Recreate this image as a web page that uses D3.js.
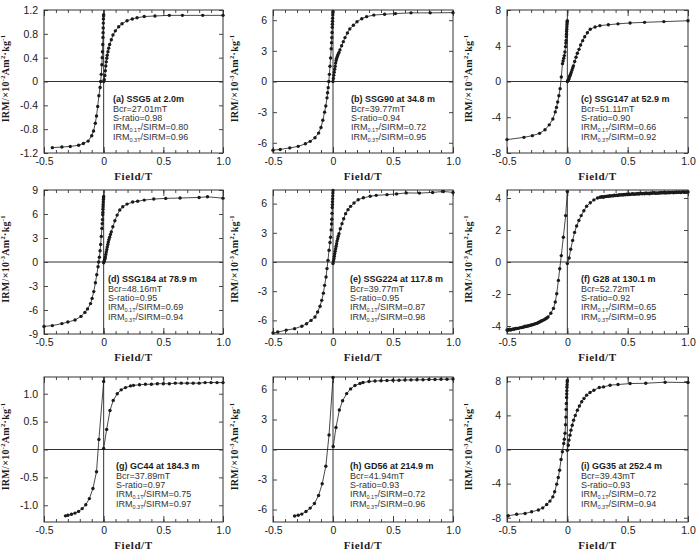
<!DOCTYPE html>
<html>
<head>
<meta charset="utf-8">
<script src="https://cdn.jsdelivr.net/npm/d3@7"></script>
<style>
  html, body { margin: 0; padding: 0; background: #fff; }
  svg { display: block; }
</style>
</head>
<body>
<svg id="chart" width="700" height="554"></svg>
<script>
// ---------------- DATA ----------------
const titles = ['(a) SSG5 at 2.0m','(b) SSG90 at 34.8 m','(c) SSG147 at 52.9 m','(d) SSG184 at 78.9 m','(e) SSG224 at 117.8 m','(f) G28 at 130.1 m','(g) GC44 at 184.3 m','(h) GD56 at 214.9 m','(i) GG35 at 252.4 m'];
const bcrValues = ['27.01','39.77','51.11','48.16','39.77','52.72','37.89','41.94','39.43'];
const sRatios = ['0.98','0.94','0.90','0.95','0.95','0.92','0.97','0.93','0.93'];
const irm01Ratios = ['0.80','0.72','0.66','0.69','0.87','0.65','0.75','0.72','0.72'];
const irm03Ratios = ['0.96','0.95','0.92','0.94','0.98','0.95','0.97','0.96','0.94'];
const unitExponents = ['-2','-3','-3','-3','-3','-3','-2','-3','-3'];
const yDomains = [[-1.2,1.2],[-7,7],[-8,8],[-9,9],[-7.4,7.4],[-4.5,4.5],[-1.3,1.3],[-7.25,7.25],[-8.5,8.5]];
const yTickValues = [[-1.2,-0.8,-0.4,0,0.4,0.8,1.2],[-6,-3,0,3,6],[-8,-4,0,4,8],[-9,-6,-3,0,3,6,9],[-6,-3,0,3,6],[-4,-2,0,2,4],[-1,-0.5,0,0.5,1],[-6,-3,0,3,6],[-8,-4,0,4,8]];
const yTickDecimals = [1,0,0,0,0,0,1,0,0];
const xDomain = [-0.5, 1.0];
const xTickValues = [-0.5, 0, 0.5, 1.0];
const xTickLabels = ['-0.5','0','0.5','1.0'];
const xMinorTicks = [-0.5,-0.4,-0.3,-0.2,-0.1,0,0.1,0.2,0.3,0.4,0.5,0.6,0.7,0.8,0.9,1.0];

// (a)
const backField_a = [0,-0.001,-0.002,-0.003,-0.004,-0.005,-0.006,-0.008,-0.01,-0.012,-0.015,-0.02,-0.025,-0.03,-0.04,-0.05,-0.06,-0.07,-0.085,-0.1,-0.13,-0.17,-0.21,-0.28,-0.35,-0.43];
const backIRM_a   = [1.12,1.1,1.05,0.98,0.9,0.82,0.74,0.62,0.5,0.4,0.28,0.12,0.0,-0.1,-0.24,-0.42,-0.58,-0.7,-0.83,-0.91,-1.0,-1.04,-1.07,-1.09,-1.1,-1.11];
const acqField_a = [0,0.005,0.01,0.014,0.018,0.022,0.026,0.03,0.036,0.042,0.05,0.064,0.078,0.098,0.126,0.154,0.196,0.24,0.28,0.34,0.43,0.55,0.66,0.83,1.0];
const acqIRM_a   = [0,0.03,0.1,0.18,0.26,0.33,0.39,0.44,0.5,0.56,0.62,0.7,0.78,0.85,0.92,0.97,1.02,1.05,1.07,1.09,1.1,1.11,1.11,1.11,1.11];
// (b)
const backField_b = [0,-0.001,-0.002,-0.003,-0.004,-0.005,-0.006,-0.008,-0.01,-0.012,-0.015,-0.02,-0.025,-0.03,-0.035,-0.04,-0.045,-0.05,-0.06,-0.07,-0.085,-0.1,-0.12,-0.15,-0.19,-0.23,-0.29,-0.36,-0.44,-0.5];
const backIRM_b   = [6.85,6.7,6.5,6.2,5.9,5.6,5.3,4.8,4.3,3.8,3.2,2.3,1.5,0.7,0.0,-0.6,-1.1,-1.6,-2.4,-3.0,-3.8,-4.5,-5.05,-5.5,-5.86,-6.1,-6.35,-6.5,-6.65,-6.72];
const acqField_b = [0,0.003,0.006,0.01,0.014,0.018,0.022,0.026,0.03,0.036,0.042,0.05,0.058,0.072,0.086,0.1,0.12,0.14,0.17,0.2,0.24,0.28,0.34,0.43,0.52,0.65,0.81,1.0];
const acqIRM_b   = [0,0.3,0.6,0.9,1.2,1.5,1.8,2.05,2.25,2.45,2.65,2.85,3.1,3.5,3.9,4.3,4.75,5.15,5.5,5.85,6.15,6.35,6.5,6.58,6.65,6.72,6.72,6.74];
// (c)
const backField_c = [0,-0.001,-0.002,-0.003,-0.004,-0.005,-0.006,-0.007,-0.008,-0.01,-0.012,-0.015,-0.02,-0.025,-0.03,-0.035,-0.04,-0.05,-0.06,-0.07,-0.08,-0.09,-0.1,-0.12,-0.15,-0.185,-0.23,-0.29,-0.36,-0.5];
const backIRM_c   = [6.8,6.7,6.55,6.35,6.1,5.85,5.6,5.3,5.0,4.6,4.3,3.9,3.3,2.9,2.6,2.3,2.0,0.5,-0.8,-1.6,-2.3,-2.9,-3.4,-4.2,-4.85,-5.4,-5.8,-6.06,-6.25,-6.5];
const acqField_c = [0,0.003,0.006,0.011,0.015,0.019,0.023,0.028,0.033,0.039,0.045,0.05,0.061,0.072,0.083,0.097,0.11,0.127,0.144,0.166,0.19,0.23,0.27,0.34,0.42,0.52,0.64,0.8,1.0];
const acqIRM_c   = [0,0.05,0.12,0.26,0.4,0.56,0.7,0.86,1.05,1.3,1.55,1.75,2.23,2.71,3.16,3.6,4.09,4.57,5.0,5.46,5.85,6.1,6.25,6.35,6.45,6.55,6.62,6.7,6.8];
// (d)
const backField_d = [0,-0.001,-0.002,-0.003,-0.004,-0.005,-0.006,-0.007,-0.008,-0.01,-0.012,-0.015,-0.02,-0.025,-0.03,-0.036,-0.042,-0.047,-0.058,-0.069,-0.083,-0.097,-0.11,-0.135,-0.157,-0.19,-0.24,-0.3,-0.35,-0.43,-0.5];
const backIRM_d   = [8.2,8.0,7.8,7.5,7.2,6.9,6.6,6.2,5.9,5.3,4.8,4.2,3.2,2.2,1.4,0.6,0.0,-0.6,-1.6,-2.6,-3.7,-4.55,-5.2,-5.86,-6.3,-6.8,-7.25,-7.5,-7.7,-7.95,-8.05];
const acqField_d = [0,0.004,0.008,0.011,0.014,0.018,0.022,0.026,0.03,0.035,0.039,0.044,0.05,0.057,0.064,0.077,0.094,0.113,0.135,0.16,0.196,0.243,0.285,0.34,0.42,0.52,0.64,0.8,0.87,1.0];
const acqIRM_d   = [-0.1,0.1,0.3,0.45,0.63,0.95,1.26,1.55,1.88,2.2,2.5,2.8,3.1,3.45,3.77,4.4,5.15,5.86,6.5,6.9,7.24,7.5,7.6,7.74,7.87,7.95,8.0,8.07,8.15,7.98];
// (e)
const backField_e = [0,-0.001,-0.002,-0.003,-0.004,-0.005,-0.006,-0.008,-0.01,-0.012,-0.015,-0.02,-0.025,-0.033,-0.042,-0.05,-0.058,-0.07,-0.08,-0.094,-0.108,-0.128,-0.15,-0.183,-0.22,-0.26,-0.32,-0.39,-0.46,-0.5];
const backIRM_e   = [7.35,7.1,6.8,6.5,6.2,5.9,5.6,5.0,4.4,3.9,3.3,2.55,2.0,1.2,0.17,-0.68,-1.54,-2.4,-3.2,-3.94,-4.55,-5.14,-5.65,-6.0,-6.34,-6.6,-6.85,-7.0,-7.2,-7.3];
const acqField_e = [0,0.004,0.008,0.011,0.014,0.018,0.022,0.026,0.03,0.034,0.039,0.044,0.05,0.061,0.075,0.089,0.105,0.125,0.147,0.175,0.21,0.253,0.31,0.36,0.45,0.53,0.61,0.72,0.83,0.92,1.0];
const acqIRM_e   = [-0.15,0.1,0.34,0.6,0.86,1.1,1.37,1.62,1.88,2.15,2.4,2.65,2.9,3.42,3.94,4.45,4.97,5.38,5.72,6.06,6.4,6.6,6.75,6.85,6.92,7.0,7.1,7.08,7.15,7.25,7.15];
// (f)
const backField_f = [0,-0.014,-0.033,-0.05,-0.063,-0.074,-0.088,-0.1,-0.115,-0.137,-0.16,-0.17,-0.18,-0.19,-0.2,-0.21,-0.22,-0.23,-0.24,-0.25,-0.26,-0.27,-0.28,-0.29,-0.3,-0.31,-0.32,-0.33,-0.34,-0.35,-0.36,-0.37,-0.38,-0.39,-0.4,-0.41,-0.42,-0.43,-0.44,-0.45,-0.46,-0.47,-0.48,-0.49,-0.5];
const backIRM_f   = [4.4,2.9,1.55,0.4,-0.42,-1.15,-1.98,-2.5,-2.9,-3.2,-3.44,-3.5,-3.55,-3.6,-3.63,-3.67,-3.7,-3.75,-3.78,-3.83,-3.85,-3.87,-3.9,-3.92,-3.94,-3.97,-3.98,-4.0,-4.03,-4.02,-4.06,-4.08,-4.1,-4.1,-4.13,-4.15,-4.16,-4.15,-4.2,-4.18,-4.22,-4.25,-4.2,-4.27,-4.25];
const acqField_f = [0,0.015,0.028,0.044,0.06,0.077,0.096,0.115,0.137,0.16,0.19,0.22,0.25,0.27,0.28,0.29,0.30,0.31,0.32,0.33,0.34,0.35,0.36,0.37,0.38,0.39,0.40,0.41,0.42,0.43,0.44,0.45,0.46,0.47,0.48,0.49,0.50,0.51,0.52,0.53,0.54,0.55,0.56,0.57,0.58,0.59,0.60,0.61,0.62,0.63,0.64,0.65,0.66,0.67,0.68,0.69,0.70,0.71,0.72,0.73,0.74,0.75,0.76,0.77,0.78,0.79,0.80,0.81,0.82,0.83,0.84,0.85,0.86,0.87,0.88,0.89,0.90,0.91,0.92,0.93,0.94,0.95,0.96,0.97,0.98,0.99,1.00];
const acqIRM_f   = [-0.1,0.25,0.8,1.35,1.85,2.25,2.6,2.9,3.2,3.48,3.7,3.88,4.0,4.05,4.06,4.08,4.05,4.10,4.09,4.12,4.10,4.14,4.12,4.15,4.13,4.17,4.15,4.18,4.16,4.20,4.18,4.21,4.19,4.22,4.20,4.23,4.21,4.25,4.22,4.24,4.27,4.23,4.26,4.24,4.28,4.25,4.27,4.30,4.26,4.29,4.27,4.31,4.28,4.30,4.27,4.32,4.29,4.31,4.33,4.30,4.32,4.29,4.33,4.31,4.34,4.32,4.35,4.31,4.34,4.32,4.36,4.33,4.35,4.37,4.33,4.36,4.34,4.37,4.35,4.38,4.34,4.37,4.39,4.35,4.38,4.36,4.38];
// (g)
const backField_g = [0,-0.04,-0.06,-0.09,-0.12,-0.15,-0.18,-0.21,-0.24,-0.27,-0.3,-0.32];
const backIRM_g   = [1.22,0.18,-0.4,-0.7,-0.88,-0.99,-1.06,-1.11,-1.14,-1.16,-1.18,-1.19];
const acqField_g = [0,0.025,0.053,0.08,0.114,0.147,0.183,0.225,0.25,0.3,0.35,0.4,0.45,0.5,0.55,0.6,0.65,0.7,0.75,0.8,0.85,0.9,0.95,1.0];
const acqIRM_g   = [0.02,0.36,0.7,0.88,1.0,1.07,1.11,1.14,1.15,1.16,1.17,1.17,1.18,1.18,1.18,1.19,1.19,1.19,1.19,1.19,1.2,1.2,1.2,1.2];
// (h)
const backField_h = [0,-0.033,-0.06,-0.09,-0.12,-0.155,-0.19,-0.225,-0.26,-0.29,-0.32];
const backIRM_h   = [7.2,1.45,-1.68,-3.43,-4.6,-5.4,-5.86,-6.2,-6.46,-6.57,-6.65];
const acqField_h = [0.002,0.025,0.053,0.08,0.114,0.147,0.183,0.225,0.25,0.3,0.35,0.4,0.45,0.5,0.55,0.6,0.65,0.7,0.75,0.8,0.85,0.9,0.95,1.0];
const acqIRM_h   = [0.3,2.2,3.95,4.88,5.59,6.06,6.4,6.6,6.7,6.8,6.85,6.88,6.9,6.92,6.93,6.95,6.96,6.97,6.98,7.0,7.0,7.02,7.03,7.05];
// (i)
const backField_i = [0,-0.001,-0.002,-0.003,-0.004,-0.005,-0.006,-0.008,-0.01,-0.012,-0.015,-0.019,-0.025,-0.03,-0.041,-0.052,-0.064,-0.075,-0.088,-0.105,-0.12,-0.144,-0.171,-0.204,-0.24,-0.296,-0.35,-0.42,-0.49];
const backIRM_i   = [8.1,7.9,7.6,7.3,6.9,6.5,6.1,5.4,4.7,3.8,2.9,1.9,1.2,0.7,-0.27,-1.17,-2.42,-3.28,-4.06,-4.96,-5.55,-6.05,-6.45,-6.84,-7.1,-7.3,-7.5,-7.6,-7.77];
const acqField_i = [0,0.008,0.014,0.022,0.03,0.041,0.052,0.066,0.083,0.1,0.119,0.138,0.16,0.188,0.22,0.265,0.3,0.354,0.42,0.52,0.65,0.81,1.0];
const acqIRM_i   = [-0.1,0.5,1.1,1.68,2.27,2.85,3.44,4.0,4.6,5.1,5.59,5.98,6.37,6.68,6.95,7.27,7.34,7.54,7.62,7.73,7.77,7.89,7.85];

const backFields = [backField_a,backField_b,backField_c,backField_d,backField_e,backField_f,backField_g,backField_h,backField_i];
const backIRMs   = [backIRM_a,backIRM_b,backIRM_c,backIRM_d,backIRM_e,backIRM_f,backIRM_g,backIRM_h,backIRM_i];
const acqFields  = [acqField_a,acqField_b,acqField_c,acqField_d,acqField_e,acqField_f,acqField_g,acqField_h,acqField_i];
const acqIRMs    = [acqIRM_a,acqIRM_b,acqIRM_c,acqIRM_d,acqIRM_e,acqIRM_f,acqIRM_g,acqIRM_h,acqIRM_i];

// ---------------- LAYOUT ----------------
const colX = [44, 273, 507];
const colW = [179, 180, 181];
const rowY = [10, 190, 377];
const rowH = [143, 144, 145];
const textDx = [69, 78, 74, 64, 77, 74, 72, 77, 74];

const svg = d3.select('#chart');
const sans = "'Liberation Sans', Arial, Helvetica, sans-serif";
const serif = "'Liberation Serif', 'Times New Roman', serif";
const ink = '#1a1a1a';

for (let p = 0; p < 9; p++) {
  const c = p % 3, r = Math.floor(p / 3);
  const x0 = colX[c], w = colW[c], y0 = rowY[r], h = rowH[r];
  const x = d3.scaleLinear().domain(xDomain).range([x0, x0 + w]);
  const y = d3.scaleLinear().domain(yDomains[p]).range([y0 + h, y0]);
  const g = svg.append('g');

  // zero lines
  g.append('line').attr('x1', x0).attr('x2', x0 + w).attr('y1', y(0)).attr('y2', y(0))
    .attr('stroke', '#333').attr('stroke-width', 1);
  g.append('line').attr('x1', x(0)).attr('x2', x(0)).attr('y1', y0).attr('y2', y0 + h)
    .attr('stroke', '#333').attr('stroke-width', 1);

  // axes
  const styleAxis = sel => {
    sel.select('.domain').remove();
    sel.selectAll('line').attr('stroke', '#333').attr('stroke-width', 0.9);
    sel.selectAll('text').attr('font-family', sans).attr('font-size', 10.5).attr('fill', ink);
  };
  g.append('g').attr('transform', `translate(0,${y0 + h})`)
    .call(d3.axisBottom(x).tickValues(xMinorTicks).tickSize(-3).tickFormat(''))
    .call(styleAxis);
  g.append('g').attr('transform', `translate(0,${y0 + h})`)
    .call(d3.axisBottom(x).tickValues(xTickValues).tickSizeInner(-6).tickSizeOuter(0).tickPadding(5)
      .tickFormat((d, i) => xTickLabels[i]))
    .call(styleAxis);
  g.append('g').attr('transform', `translate(0,${y0})`)
    .call(d3.axisTop(x).tickValues(xMinorTicks).tickSize(-3).tickFormat(''))
    .call(styleAxis);
  g.append('g').attr('transform', `translate(0,${y0})`)
    .call(d3.axisTop(x).tickValues(xTickValues).tickSize(-6).tickFormat(''))
    .call(styleAxis);
  g.append('g').attr('transform', `translate(${x0},0)`)
    .call(d3.axisLeft(y).tickValues(yTickValues[p]).tickSizeInner(-4).tickSizeOuter(0).tickPadding(6)
      .tickFormat(d => d === 0 ? '0' : d.toFixed(yTickDecimals[p])))
    .call(styleAxis);
  g.append('g').attr('transform', `translate(${x0 + w},0)`)
    .call(d3.axisRight(y).tickValues(yTickValues[p]).tickSize(-4).tickFormat(''))
    .call(styleAxis);

  // frame
  g.append('rect').attr('x', x0).attr('y', y0).attr('width', w).attr('height', h)
    .attr('fill', 'none').attr('stroke', '#333').attr('stroke-width', 1);

  // curves
  const line = d3.line().x(d => x(d[0])).y(d => y(d[1]));
  const back = backFields[p].map((f, i) => [f, backIRMs[p][i]]);
  const acq = acqFields[p].map((f, i) => [f, acqIRMs[p][i]]);
  [back, acq].forEach(series => {
    g.append('path').datum(series).attr('d', line)
      .attr('fill', 'none').attr('stroke', ink).attr('stroke-width', 0.8);
    g.selectAll(null).data(series).enter().append('circle')
      .attr('cx', d => x(d[0])).attr('cy', d => y(d[1])).attr('r', 1.7).attr('fill', ink);
  });

  // annotation
  const tx = x0 + textDx[p], ty = y0 + 92;
  g.append('text').attr('x', tx).attr('y', ty).attr('font-family', sans).attr('font-weight', 'bold')
    .attr('font-size', 9).attr('fill', ink).text(titles[p]);
  const lineStyle = t => t.attr('font-family', sans).attr('font-size', 9).attr('fill', '#333');
  g.append('text').attr('x', tx).attr('y', ty + 9.5).call(lineStyle).text('Bcr=' + bcrValues[p] + 'mT');
  g.append('text').attr('x', tx).attr('y', ty + 18.8).call(lineStyle).text('S-ratio=' + sRatios[p]);
  [['0.1T', irm01Ratios[p], 28.3], ['0.3T', irm03Ratios[p], 38.3]].forEach(([sub, val, dy]) => {
    const t = g.append('text').attr('x', tx).attr('y', ty + dy).call(lineStyle);
    t.append('tspan').text('IRM');
    t.append('tspan').attr('font-size', 5.5).attr('dy', 2).text(sub);
    t.append('tspan').attr('dy', -2).text('/SIRM=' + val);
  });

  // x label
  g.append('text').attr('x', x0 + w / 2).attr('y', y0 + h + 27).attr('text-anchor', 'middle')
    .attr('font-family', serif).attr('font-weight', 'bold').attr('font-size', 11)
    .attr('letter-spacing', 0.6).attr('fill', ink).text('Field/T');

  // y label
  const yl = g.append('text')
    .attr('transform', `translate(${x0 - 35},${y0 + h / 2 - 3}) rotate(-90)`)
    .attr('text-anchor', 'middle').attr('font-family', serif).attr('font-weight', 'bold')
    .attr('font-size', 10).attr('letter-spacing', 0.3).attr('fill', ink);
  yl.append('tspan').text('IRM/×10');
  yl.append('tspan').attr('font-size', 6.5).attr('dy', -4).text(unitExponents[p]);
  yl.append('tspan').attr('dy', 4).text('Am');
  yl.append('tspan').attr('font-size', 6.5).attr('dy', -4).text('2');
  yl.append('tspan').attr('dy', 4).text('·kg');
  yl.append('tspan').attr('font-size', 6.5).attr('dy', -4).text('-1');
}
</script>
</body>
</html>
